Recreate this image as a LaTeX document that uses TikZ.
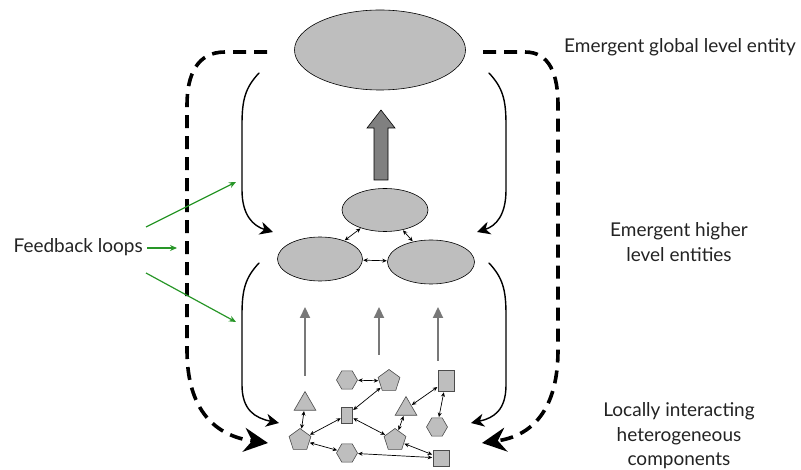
\documentclass[tikz,border=0pt]{standalone}
\usepackage{fontspec}
\setmainfont{Lato}
\usetikzlibrary{arrows.meta,shapes.geometric}
\definecolor{shapegray}{RGB}{190,190,190}
\definecolor{arrowgray}{RGB}{120,120,120}
\definecolor{blockgray}{RGB}{128,128,128}
\definecolor{fbgreen}{RGB}{40,150,40}
\definecolor{txt}{RGB}{35,35,35}
\tikzset{
  bigell/.style={ellipse, draw=black, line width=0.6pt, fill=shapegray, inner sep=0pt},
  comp/.style={draw=black!70, line width=0.6pt, fill=shapegray, inner sep=0pt},
  hexa/.style={comp, regular polygon, regular polygon sides=6, minimum size=21pt},
  penta/.style={comp, regular polygon, regular polygon sides=5, minimum size=23pt},
  tri/.style={comp, regular polygon, regular polygon sides=3, minimum size=25pt},
  link/.style={{Stealth[length=4.5pt,width=4pt]}-{Stealth[length=4.5pt,width=4pt]}, line width=0.7pt, shorten <=0.5pt, shorten >=0.5pt},
  uparrow/.style={arrowgray, line width=2.2pt, -{Triangle[length=11pt,width=10pt]}},
  solidloop/.style={line width=1.4pt, line cap=round, -{Stealth[length=13pt,width=13pt,inset=4pt]}},
  dashloop/.style={line width=3.6pt, dash pattern=on 13pt off 8pt, -{Stealth[length=24pt,width=24pt,inset=8pt]}},
  greenarrow/.style={fbgreen, line width=1.2pt, -{Stealth[length=7pt,width=6pt]}},
  label/.style={text=txt, font=\fontsize{19}{24.5}\selectfont, align=center}
}
\begin{document}
\begin{tikzpicture}[x=1pt,y=-1pt]
\useasboundingbox (0,0) rectangle (801,470);

% top entity
\node[bigell, minimum width=171pt, minimum height=80pt] (top) at (380,50) {};

% block arrow
\draw[fill=blockgray, line width=0.6pt] (374,180) -- (374,128) -- (367,128) -- (381,110) -- (395,128) -- (388,128) -- (388,180) -- cycle;

% middle entities
\node[bigell, minimum width=86pt, minimum height=43pt] (mt) at (385,210) {};
\node[bigell, minimum width=85pt, minimum height=44pt] (ml) at (320,259) {};
\node[bigell, minimum width=87pt, minimum height=44pt] (mr) at (431,262) {};
\draw[link] (mt) -- (ml);
\draw[link] (mt) -- (mr);
\draw[link] (ml) -- (mr);

% upward gray arrows
\coordinate (u1s) at (305,376); \coordinate (u1e) at (305,307);
\coordinate (u2s) at (379,355); \coordinate (u2e) at (379,307);
\coordinate (u3s) at (438,361); \coordinate (u3e) at (438,307);
\draw[uparrow] (u1s) -- (u1e);
\draw[uparrow] (u2s) -- (u2e);
\draw[uparrow] (u3s) -- (u3e);

% components
\node[hexa] (A) at (347,380) {};
\node[penta] (B) at (389,381) {};
\node[comp, minimum width=16pt, minimum height=21pt] (C) at (446,381) {};
\node[tri] (D) at (305,404) {};
\node[comp, minimum width=11pt, minimum height=16pt] (E) at (347,415) {};
\node[tri] (F) at (406,409) {};
\node[hexa] (G) at (437,427) {};
\node[penta] (H) at (300,440) {};
\node[penta] (I) at (395,440) {};
\node[hexa] (J) at (347,453) {};
\node[comp, minimum width=16pt, minimum height=16pt] (K) at (441,458) {};
\draw[link] (A) -- (B);
\draw[link] (B) -- (E);
\draw[link] (E) -- (H);
\draw[link] (E) -- (I);
\draw[link] (D) -- (H);
\draw[link] (H) -- (J);
\draw[link] (J) -- (K);
\draw[link] (I) -- (K);
\draw[link] (F) -- (I);
\draw[link] (F) -- (C);
\draw[link] (C) -- (G);

% solid feedback curves
\coordinate (ls1) at (259,73); \coordinate (le1) at (273,232);
\coordinate (ls2) at (259,263); \coordinate (le2) at (279,423);
\coordinate (rs1) at (489,73); \coordinate (re1) at (477,232);
\coordinate (rs2) at (489,263); \coordinate (re2) at (471,423);
\draw[solidloop] (ls1) .. controls (245,88) and (242,100) .. (242,125) -- (242,190) .. controls (242,215) and (253,226) .. (le1);
\draw[solidloop] (ls2) .. controls (245,278) and (242,290) .. (242,315) -- (242,385) .. controls (242,410) and (255,418) .. (le2);
\draw[solidloop] (rs1) .. controls (503,88) and (506,100) .. (506,125) -- (506,190) .. controls (506,215) and (496,226) .. (re1);
\draw[solidloop] (rs2) .. controls (503,278) and (506,290) .. (506,315) -- (506,385) .. controls (506,410) and (494,418) .. (re2);

% dashed feedback curves
\coordinate (dl1) at (267,52); \coordinate (dl2) at (268,443);
\coordinate (dr1) at (483,52); \coordinate (dr2) at (482,443);
\draw[dashloop] (dl1) -- (225,52) .. controls (197,52) and (187,75) .. (187,105) -- (187,350) .. controls (187,410) and (215,436) .. (dl2);
\draw[dashloop] (dr1) -- (525,52) .. controls (550,52) and (558,75) .. (558,105) -- (558,350) .. controls (558,410) and (532,436) .. (dr2);

% feedback label and green arrows
\node[label, anchor=east, inner sep=0pt] (fb) at (143,247) {Feedback loops};
\coordinate (g1s) at (146,227); \coordinate (g1e) at (236,182);
\coordinate (g2s) at (147,248); \coordinate (g2e) at (177,248);
\coordinate (g3s) at (146,273); \coordinate (g3e) at (236,322);
\draw[greenarrow] (g1s) -- (g1e);
\draw[greenarrow] (g2s) -- (g2e);
\draw[greenarrow] (g3s) -- (g3e);

% right labels
\node[label] (lg) at (680,47) {Emergent global level entity};
\node[label] (lh) at (679,242) {Emergent higher\\level entities};
\node[label] (ll) at (679,436) {Locally interacting\\heterogeneous\\components};
\end{tikzpicture}
\end{document}
